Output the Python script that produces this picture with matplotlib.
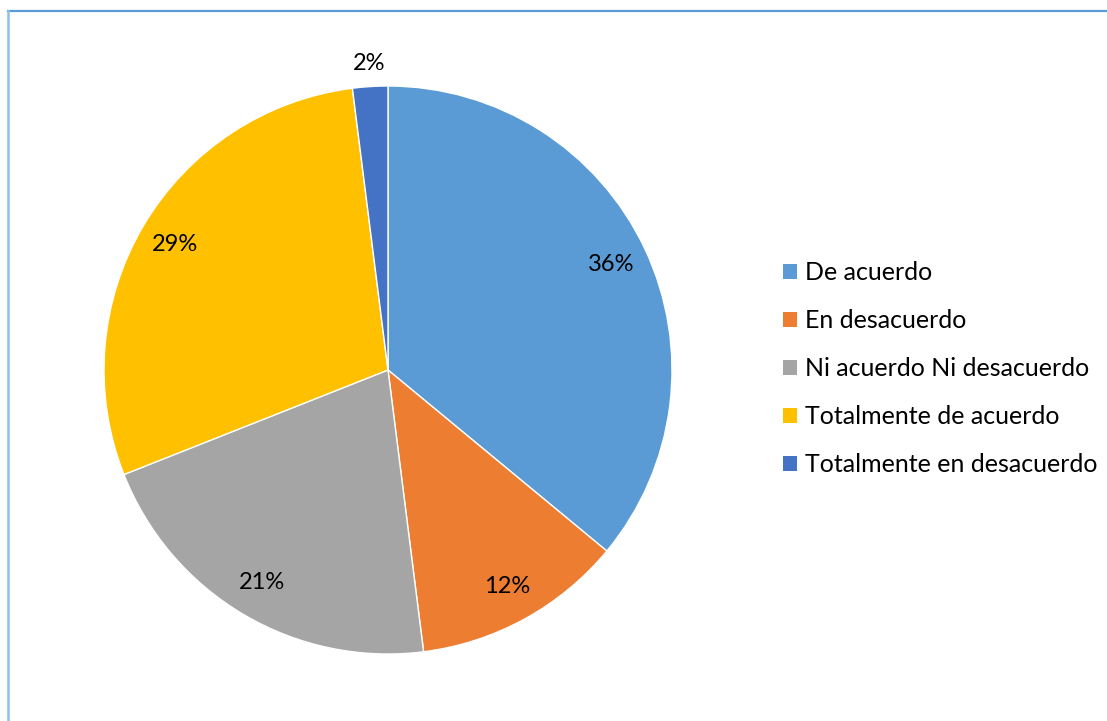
import numpy as np
import matplotlib.pyplot as plt
from matplotlib.patches import Patch
from matplotlib.lines import Line2D

plt.rcParams['font.family'] = ['Lato', 'DejaVu Sans']

categorias = ['De acuerdo', 'En desacuerdo', 'Ni acuerdo Ni desacuerdo',
              'Totalmente de acuerdo', 'Totalmente en desacuerdo']
porcentajes = [36, 12, 21, 29, 2]
colores = ['#5B9BD5', '#ED7D31', '#A5A5A5', '#FFC000', '#4472C4']

fig = plt.figure(figsize=(11.07, 7.21), dpi=100)

# marco del gráfico (solo arriba e izquierda visibles)
fig.add_artist(Line2D([7.5 / 1107, 1], [1 - 11 / 721, 1 - 11 / 721],
                      color='#5B9BD5', lw=1.6, transform=fig.transFigure))
fig.add_artist(Line2D([7.5 / 1107, 7.5 / 1107], [0, 1 - 11 / 721],
                      color='#8FC0E9', lw=1.8, transform=fig.transFigure))

cx, cy, r = 388, 370, 284
ax = fig.add_axes([(cx - r) / 1107, (721 - cy - r) / 721, 2 * r / 1107, 2 * r / 721])
wedges, _ = ax.pie(porcentajes, colors=colores, startangle=90, counterclock=False,
                   wedgeprops=dict(edgecolor='white', linewidth=1))
ax.set_xlim(-1, 1)
ax.set_ylim(-1, 1)
ax.set_aspect('equal')
ax.axis('off')

# etiquetas de porcentaje
for w, p in zip(wedges, porcentajes):
    ang = np.deg2rad((w.theta1 + w.theta2) / 2)
    d = 1.08 if p < 5 else 0.87
    ax.text(d * np.cos(ang), d * np.sin(ang), f'{p}%', ha='center', va='center',
            fontsize=17, color='black')

handles = [Patch(facecolor=c, edgecolor='none') for c in colores]
fig.legend(handles, categorias, loc='center left', bbox_to_anchor=(773 / 1107, 1 - 369 / 721),
           frameon=False, fontsize=18, handlelength=0.56, handleheight=0.56,
           handletextpad=0.33, labelspacing=1.0, borderaxespad=0)

fig.savefig('out.png', dpi=100, facecolor='white')
